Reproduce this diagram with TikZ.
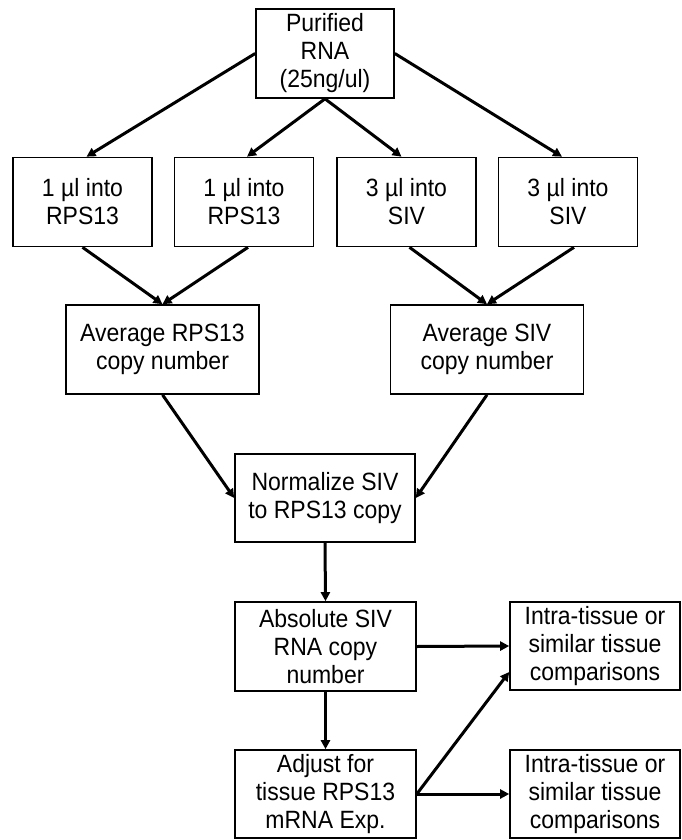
\documentclass[tikz,border=0pt]{standalone}
\usepackage{fontspec}
\setmainfont{Liberation Sans}[FakeStretch=0.92]
\usetikzlibrary{arrows.meta}
\begin{document}
\begin{tikzpicture}[x=1pt,y=-1pt,
  box/.style={draw=black, line width=1.6pt, fill=white, align=center, inner sep=0pt,
    font=\fontsize{25}{28}\selectfont, minimum height=89pt},
  arr/.style={line width=3pt, -{Triangle[length=9pt,width=9pt]}}]
\useasboundingbox (0,0) rectangle (681,840);
\node[box, minimum width=138pt] (top) at (325,53.5) {Purified\\RNA\\(25ng/ul)};
\node[box, minimum width=139pt] (b1) at (82.5,202) {1 µl into\\RPS13};
\node[box, minimum width=139pt] (b2) at (244,202) {1 µl into\\RPS13};
\node[box, minimum width=139pt] (b3) at (406.5,202) {3 µl into\\SIV};
\node[box, minimum width=139pt] (b4) at (568,202) {3 µl into\\SIV};
\node[box, minimum width=193pt] (avgR) at (162.5,349.5) {Average RPS13\\copy number};
\node[box, minimum width=193pt] (avgS) at (487,349.5) {Average SIV\\copy number};
\node[box, minimum width=180pt, minimum height=88pt] (norm) at (325,498) {Normalize SIV\\to RPS13 copy};
\node[box, minimum width=181pt] (abs) at (325.5,646.5) {Absolute SIV\\RNA copy\\number};
\node[box, minimum width=170pt, minimum height=88pt] (in1) at (595,646) {Intra-tissue or\\similar tissue\\comparisons};
\node[box, minimum width=181pt, minimum height=88pt] (adj) at (325.5,794) {Adjust for\\tissue RPS13\\mRNA Exp.};
\node[box, minimum width=170pt, minimum height=88pt] (in2) at (595,794) {Intra-tissue or\\similar tissue\\comparisons};
\draw[arr] (top.west) -- ([xshift=4pt]b1.north);
\draw[arr] (top.south) -- ([xshift=3pt]b2.north);
\draw[arr] (top.south) -- ([xshift=-5pt]b3.north);
\draw[arr] (top.east) -- ([xshift=-6pt]b4.north);
\draw[arr] (b1.south) -- (avgR.north);
\draw[arr] ([xshift=4pt]b2.south) -- (avgR.north);
\draw[arr] ([xshift=3pt]b3.south) -- (avgS.north);
\draw[arr] ([xshift=6pt]b4.south) -- (avgS.north);
\draw[arr] (avgR.south) -- (norm.west);
\draw[arr] (avgS.south) -- (norm.east);
\draw[arr] (norm.south) -- (abs.north);
\draw[arr] (abs.east) -- (in1.west);
\draw[arr] (abs.south) -- (adj.north);
\draw[arr] (adj.east) -- (in2.west);
\draw[arr] (adj.east) -- ([yshift=-26pt]in1.west);
\end{tikzpicture}
\end{document}
